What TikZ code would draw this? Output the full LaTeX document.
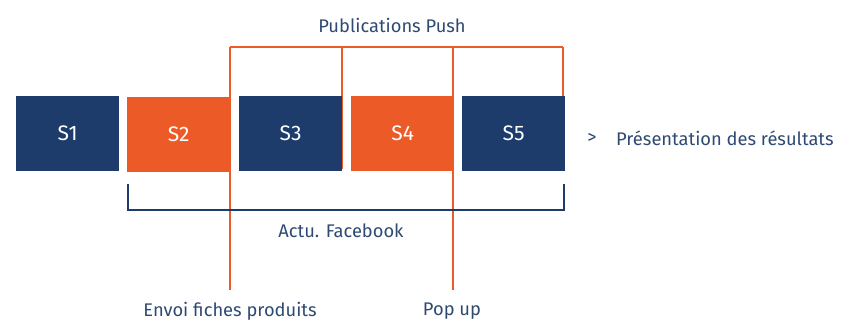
\documentclass[tikz,border=0pt]{standalone}
\usepackage{fontspec}
\setmainfont{Fira Sans}
\definecolor{navy}{HTML}{1D3C6B}
\definecolor{orng}{HTML}{EC5B27}
\definecolor{txt}{HTML}{2E4A72}
\begin{document}
\begin{tikzpicture}[x=1pt,y=-1pt,
  sbox/.style={minimum width=103pt,minimum height=75pt,inner sep=0pt,text=white,font=\fontsize{21}{24}\selectfont},
  lbl/.style={text=txt,font=\fontsize{18.3}{22}\selectfont,inner sep=0pt},
  oline/.style={draw=orng,line width=2pt},
  nline/.style={draw=navy,line width=2pt}]
\useasboundingbox (0,0) rectangle (841,322);
% orange bracket (behind boxes)
\coordinate (t1) at (229.5,47);
\coordinate (t2) at (342,47);
\coordinate (t3) at (453,47);
\coordinate (t4) at (563,47);
\coordinate (b1) at (229.5,290);
\coordinate (b2) at (342,169);
\coordinate (b3) at (453,290);
\coordinate (b4) at (563,96);
\draw[oline] (t1) -- (t4);
\draw[oline] (t1) -- (b1);
\draw[oline] (t2) -- (b2);
\draw[oline] (t3) -- (b3);
\draw[oline] (t4) -- (b4);
% boxes
\node[sbox,fill=navy,anchor=north west] (s1) at (16,96) {S1};
\node[sbox,fill=orng,anchor=north west] (s2) at (127,97) {S2};
\node[sbox,fill=navy,anchor=north west] (s3) at (239,96) {S3};
\node[sbox,fill=orng,anchor=north west] (s4) at (351,96) {S4};
\node[sbox,fill=navy,anchor=north west] (s5) at (462,96) {S5};
% navy bracket
\coordinate (n1) at (128,184);
\coordinate (n2) at (128,210);
\coordinate (n3) at (564,210);
\coordinate (n4) at (564,184);
\draw[nline] (n1) -- (n2) -- (n3) -- (n4);
% labels
\node[lbl] (pp) at (392,25) {Publications Push};
\node[lbl] (af) at (341,231) {Actu. Facebook};
\node[lbl] (ef) at (230,311) {Envoi fiches produits};
\node[lbl] (pu) at (452,311) {Pop up};
\node[lbl] (gt) at (592,138) {>};
\node[lbl,anchor=west] (pr) at (616,138) {Présentation des résultats};
\end{tikzpicture}
\end{document}
